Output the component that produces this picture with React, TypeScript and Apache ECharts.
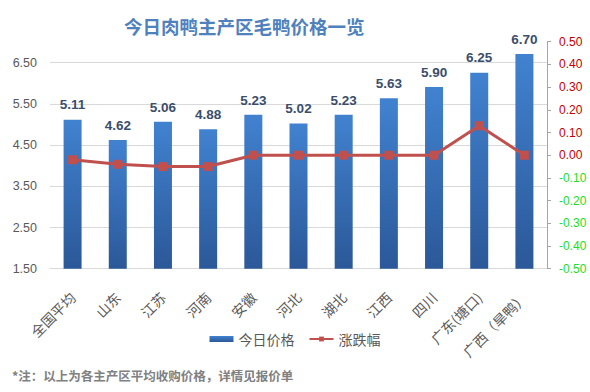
import React, { useEffect, useRef } from "react";
import * as echarts from "echarts";

const categories = ["全国平均", "山东", "江苏", "河南", "安徽", "河北", "湖北", "江西", "四川", "广东(塘口)", "广西（旱鸭）"];
const priceValues = [5.11, 4.62, 5.06, 4.88, 5.23, 5.02, 5.23, 5.63, 5.9, 6.25, 6.7];
const changeValues = [-0.02, -0.04, -0.05, -0.05, 0, 0, 0, 0, 0, 0.13, 0];
const titleText = "今日肉鸭主产区毛鸭价格一览";
const seriesNames = ["今日价格", "涨跌幅"];
const noteText = "*注：以上为各主产区平均收购价格，详情见报价单";

const FONT = "'Liberation Sans', 'Noto Sans CJK SC', sans-serif";
const CJK = "'Noto Sans CJK SC', sans-serif";

export default function App() {
  const ref = useRef<HTMLDivElement>(null);
  useEffect(() => {
    if (!ref.current) return;
    const chart = echarts.init(ref.current, undefined, { renderer: "svg" });
    chart.setOption({
      animation: false,
      backgroundColor: "#ffffff",
      title: {
        text: titleText,
        left: 119,
        top: 12,
        textStyle: { color: "#4f81bd", fontSize: 18.5, fontWeight: "bold", fontFamily: CJK },
      },
      legend: {
        top: 327,
        left: "center",
        itemWidth: 24,
        itemHeight: 6,
        itemGap: 14,
        textStyle: { color: "#595959", fontSize: 14, fontFamily: CJK },
        data: [
          { name: seriesNames[0], icon: "rect" },
          { name: seriesNames[1] },
        ],
      },
      grid: [
        { left: 50, right: 43, top: 62.7, bottom: 123.3 },
        { left: 50, right: 43, top: 41.7, bottom: 123.3 },
      ],
      xAxis: [
        {
          type: "category",
          gridIndex: 0,
          data: categories,
          axisLine: { lineStyle: { color: "#d9d9d9" } },
          axisTick: { show: false },
          axisLabel: {
            interval: 0,
            rotate: 45,
            margin: 26,
            color: "#595959",
            fontSize: 14,
            fontFamily: CJK,
          },
        },
        {
          type: "category",
          gridIndex: 1,
          data: categories,
          show: false,
        },
      ],
      yAxis: [
        {
          type: "value",
          gridIndex: 0,
          min: 1.5,
          max: 6.5,
          interval: 1,
          axisLine: { show: false },
          axisTick: { show: false },
          splitLine: { lineStyle: { color: "#d9d9d9" } },
          axisLabel: {
            margin: 13,
            color: "#595959",
            fontSize: 12.5,
            fontFamily: FONT,
            formatter: (v: number) => v.toFixed(2),
          },
        },
        {
          type: "value",
          gridIndex: 1,
          min: 1.5,
          max: 7,
          show: false,
          splitLine: { show: false },
        },
        {
          type: "value",
          gridIndex: 1,
          position: "right",
          min: -0.5,
          max: 0.5,
          interval: 0.1,
          axisLine: { show: true, lineStyle: { color: "#a6a6a6" } },
          axisTick: { show: true, length: 4, lineStyle: { color: "#a6a6a6" } },
          splitLine: { show: false },
          axisLabel: {
            margin: 12,
            fontSize: 12,
            fontFamily: FONT,
            formatter: (v: number) => v.toFixed(2),
            color: (v: any) => (Number(v) >= -1e-9 ? "#c00000" : "#22dd22"),
          },
        },
      ],
      series: [
        {
          name: seriesNames[0],
          type: "bar",
          xAxisIndex: 1,
          yAxisIndex: 1,
          data: priceValues,
          barWidth: 18,
          itemStyle: {
            color: new echarts.graphic.LinearGradient(0, 0, 0, 1, [
              { offset: 0, color: "#4182d0" },
              { offset: 1, color: "#2b5898" },
            ]),
          },
          label: {
            show: true,
            position: "top",
            distance: 8,
            color: "#3a4d6b",
            fontSize: 13.5,
            fontWeight: "bold",
            fontFamily: FONT,
            formatter: (p: any) => Number(p.value).toFixed(2),
          },
        },
        {
          name: seriesNames[1],
          type: "line",
          xAxisIndex: 1,
          yAxisIndex: 2,
          data: changeValues,
          symbol: "rect",
          symbolSize: 9,
          lineStyle: { color: "#c0504d", width: 3 },
          itemStyle: { color: "#c0504d" },
        },
      ],
      graphic: [
        {
          type: "text",
          left: 12,
          top: 369,
          style: {
            text: noteText,
            fill: "#808080",
            fontSize: 12.5,
            fontWeight: "bold",
            fontFamily: CJK,
          },
        },
      ],
    });
    return () => chart.dispose();
  }, []);
  return (
    <div
      ref={ref}
      style={{ position: "absolute", left: 0, top: 0, width: 590, height: 392 }}
    />
  );
}
